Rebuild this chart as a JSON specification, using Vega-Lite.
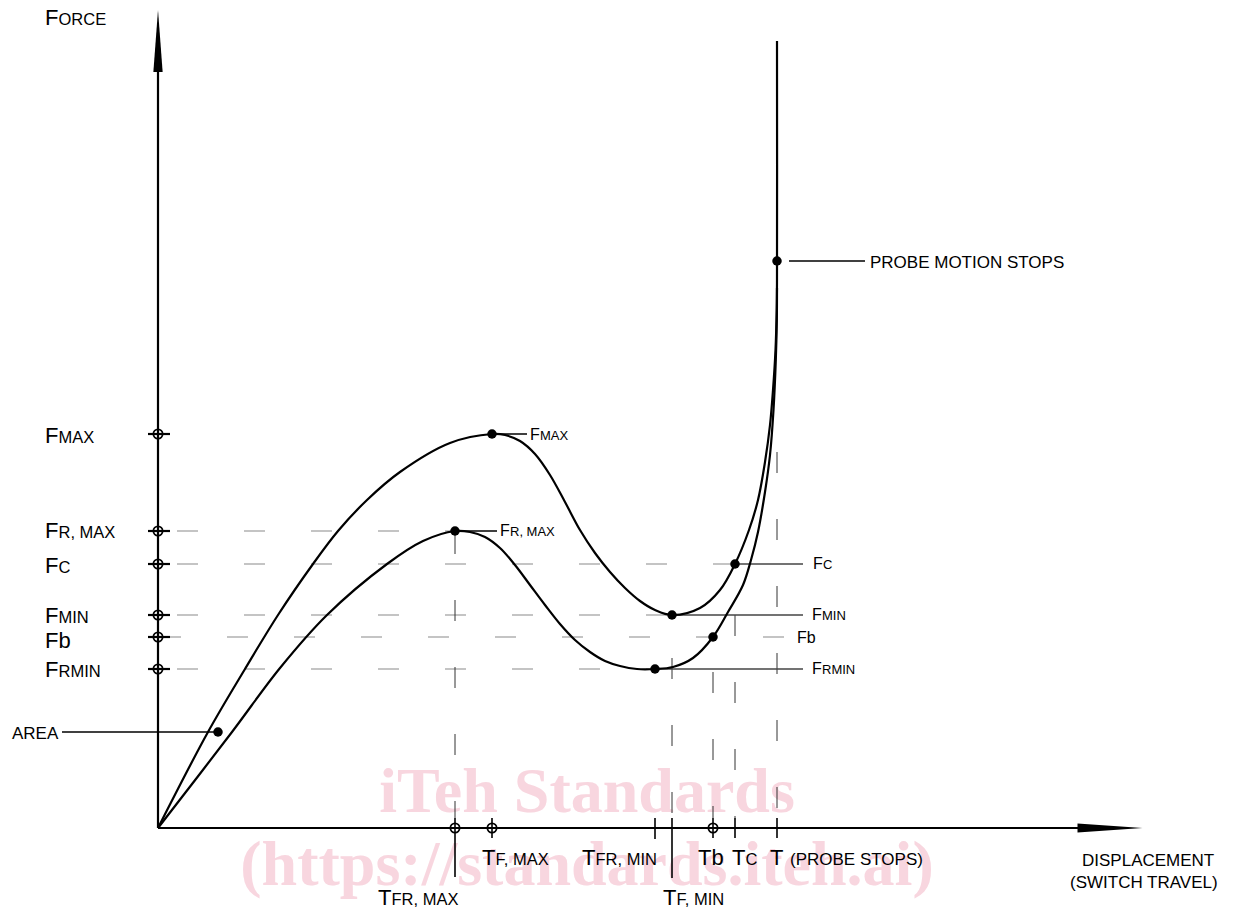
{
  "$schema": "https://vega.github.io/schema/vega-lite/v6.json",
  "width": 1236,
  "height": 910,
  "padding": 0,
  "autosize": "none",
  "background": "white",
  "config": {"view": {"stroke": null}},
  "datasets": {
    "watermark": [
      {"t": "iTeh Standards", "x": 429, "y": 16},
      {"t": "(https://standards.iteh.ai)", "x": 429, "y": -57}
    ],
    "segments": [
      {"x": 0, "y": 0, "x2": 0, "y2": 770, "k": "axis"},
      {"x": 0, "y": 0, "x2": 935, "y2": 0, "k": "axis"},
      {"x": 19, "y": 297, "x2": 297, "y2": 297, "k": "hdash"},
      {"x": 19, "y": 264, "x2": 577, "y2": 264, "k": "hdash"},
      {"x": 19, "y": 213, "x2": 514, "y2": 213, "k": "hdash"},
      {"x": 2, "y": 191, "x2": 632, "y2": 191, "k": "hdash"},
      {"x": 19, "y": 159, "x2": 497, "y2": 159, "k": "hdash"},
      {"x": 297, "y": 295, "x2": 297, "y2": 10, "k": "vdash"},
      {"x": 514, "y": 170, "x2": 514, "y2": 10, "k": "vdash"},
      {"x": 555, "y": 156, "x2": 555, "y2": 10, "k": "vdash"},
      {"x": 577, "y": 213, "x2": 577, "y2": 10, "k": "vdash"},
      {"x": 619, "y": 376, "x2": 619, "y2": 10, "k": "vdash"},
      {"x": 577, "y": 264, "x2": 645, "y2": 264, "k": "lead"},
      {"x": 514, "y": 213, "x2": 645, "y2": 213, "k": "lead"},
      {"x": 497, "y": 159, "x2": 645, "y2": 159, "k": "lead"},
      {"x": 334, "y": 394, "x2": 369, "y2": 394, "k": "blk"},
      {"x": 297, "y": 297, "x2": 339, "y2": 297, "k": "blk"},
      {"x": 631, "y": 567, "x2": 707, "y2": 567, "k": "blk"},
      {"x": -96, "y": 96, "x2": 60, "y2": 96, "k": "blk"},
      {"x": 297, "y": 10, "x2": 297, "y2": -49, "k": "blk"},
      {"x": 334, "y": 10, "x2": 334, "y2": -10, "k": "blk"},
      {"x": 497, "y": 10, "x2": 497, "y2": -11, "k": "blk"},
      {"x": 514, "y": 10, "x2": 514, "y2": -50, "k": "blk"},
      {"x": 555, "y": 10, "x2": 555, "y2": -10, "k": "blk"},
      {"x": 577, "y": 10, "x2": 577, "y2": -10, "k": "blk"},
      {"x": 619, "y": 10, "x2": 619, "y2": -10, "k": "blk"},
      {"x": -10, "y": 394, "x2": 12, "y2": 394, "k": "tick"},
      {"x": -10, "y": 297, "x2": 12, "y2": 297, "k": "tick"},
      {"x": -10, "y": 264, "x2": 12, "y2": 264, "k": "tick"},
      {"x": -10, "y": 213, "x2": 12, "y2": 213, "k": "tick"},
      {"x": -10, "y": 191, "x2": 12, "y2": 191, "k": "tick"},
      {"x": -10, "y": 159, "x2": 12, "y2": 159, "k": "tick"}
    ],
    "curves": [
      {"c": "upper", "i": 0, "x": 0, "y": 0},
      {"c": "upper", "i": 1, "x": 50, "y": 96},
      {"c": "upper", "i": 2, "x": 87, "y": 159},
      {"c": "upper", "i": 3, "x": 120, "y": 213},
      {"c": "upper", "i": 4, "x": 155, "y": 264},
      {"c": "upper", "i": 5, "x": 180, "y": 297},
      {"c": "upper", "i": 6, "x": 209, "y": 328},
      {"c": "upper", "i": 7, "x": 242, "y": 356},
      {"c": "upper", "i": 8, "x": 292, "y": 385},
      {"c": "upper", "i": 9, "x": 334, "y": 394},
      {"c": "upper", "i": 10, "x": 347, "y": 393},
      {"c": "upper", "i": 11, "x": 362, "y": 387},
      {"c": "upper", "i": 12, "x": 377, "y": 374},
      {"c": "upper", "i": 13, "x": 392, "y": 353},
      {"c": "upper", "i": 14, "x": 407, "y": 326},
      {"c": "upper", "i": 15, "x": 422, "y": 298},
      {"c": "upper", "i": 16, "x": 437, "y": 275},
      {"c": "upper", "i": 17, "x": 452, "y": 256},
      {"c": "upper", "i": 18, "x": 467, "y": 240},
      {"c": "upper", "i": 19, "x": 482, "y": 227},
      {"c": "upper", "i": 20, "x": 497, "y": 218},
      {"c": "upper", "i": 21, "x": 514, "y": 213},
      {"c": "upper", "i": 22, "x": 542, "y": 220},
      {"c": "upper", "i": 23, "x": 562, "y": 238},
      {"c": "upper", "i": 24, "x": 577, "y": 264},
      {"c": "upper", "i": 25, "x": 591, "y": 298},
      {"c": "upper", "i": 26, "x": 600, "y": 328},
      {"c": "upper", "i": 27, "x": 607, "y": 366},
      {"c": "upper", "i": 28, "x": 612, "y": 403},
      {"c": "upper", "i": 29, "x": 615, "y": 438},
      {"c": "upper", "i": 30, "x": 617.5, "y": 478},
      {"c": "upper", "i": 31, "x": 618.7, "y": 518},
      {"c": "upper", "i": 32, "x": 619, "y": 548},
      {"c": "upper", "i": 33, "x": 619, "y": 787},
      {"c": "lower", "i": 0, "x": 0, "y": 0},
      {"c": "lower", "i": 1, "x": 74, "y": 96},
      {"c": "lower", "i": 2, "x": 122, "y": 160},
      {"c": "lower", "i": 3, "x": 169, "y": 213},
      {"c": "lower", "i": 4, "x": 229, "y": 264},
      {"c": "lower", "i": 5, "x": 265, "y": 287},
      {"c": "lower", "i": 6, "x": 297, "y": 297},
      {"c": "lower", "i": 7, "x": 312, "y": 296},
      {"c": "lower", "i": 8, "x": 327, "y": 291},
      {"c": "lower", "i": 9, "x": 342, "y": 280},
      {"c": "lower", "i": 10, "x": 357, "y": 263},
      {"c": "lower", "i": 11, "x": 372, "y": 243},
      {"c": "lower", "i": 12, "x": 387, "y": 223},
      {"c": "lower", "i": 13, "x": 402, "y": 204},
      {"c": "lower", "i": 14, "x": 417, "y": 188},
      {"c": "lower", "i": 15, "x": 432, "y": 176},
      {"c": "lower", "i": 16, "x": 447, "y": 167},
      {"c": "lower", "i": 17, "x": 462, "y": 162},
      {"c": "lower", "i": 18, "x": 479, "y": 159},
      {"c": "lower", "i": 19, "x": 497, "y": 159},
      {"c": "lower", "i": 20, "x": 515, "y": 161},
      {"c": "lower", "i": 21, "x": 535, "y": 170},
      {"c": "lower", "i": 22, "x": 555, "y": 191},
      {"c": "lower", "i": 23, "x": 570, "y": 216},
      {"c": "lower", "i": 24, "x": 585, "y": 243},
      {"c": "lower", "i": 25, "x": 593, "y": 268},
      {"c": "lower", "i": 26, "x": 600, "y": 296},
      {"c": "lower", "i": 27, "x": 607, "y": 336},
      {"c": "lower", "i": 28, "x": 612, "y": 373},
      {"c": "lower", "i": 29, "x": 615.5, "y": 418},
      {"c": "lower", "i": 30, "x": 617.8, "y": 468},
      {"c": "lower", "i": 31, "x": 618.8, "y": 508},
      {"c": "lower", "i": 32, "x": 619, "y": 540}
    ],
    "arrows": [
      {"dir": "up", "x": 0, "y": 787},
      {"dir": "right", "x": 952, "y": 0}
    ],
    "dots": [
      {"name": "F max", "x": 334, "y": 394},
      {"name": "F r,max", "x": 297, "y": 297},
      {"name": "F c", "x": 577, "y": 264},
      {"name": "F min", "x": 514, "y": 213},
      {"name": "F rmin", "x": 497, "y": 159},
      {"name": "F b", "x": 555, "y": 191},
      {"name": "probe stops", "x": 619, "y": 567},
      {"name": "area", "x": 60, "y": 96}
    ],
    "rings": [
      {"x": 0, "y": 394}, {"x": 0, "y": 297}, {"x": 0, "y": 264},
      {"x": 0, "y": 213}, {"x": 0, "y": 191}, {"x": 0, "y": 159},
      {"x": 297, "y": 0}, {"x": 334, "y": 0}, {"x": 555, "y": 0}
    ],
    "caps": [
      {"g": "L", "big": "F", "small": "ORCE", "x": -113, "y": 803},
      {"g": "L", "big": "F", "small": "MAX", "x": -113, "y": 385},
      {"g": "L", "big": "F", "small": "R, MAX", "x": -113, "y": 290},
      {"g": "L", "big": "F", "small": "C", "x": -113, "y": 255},
      {"g": "L", "big": "F", "small": "MIN", "x": -113, "y": 205},
      {"g": "L", "big": "Fb", "small": "", "x": -113, "y": 180},
      {"g": "L", "big": "F", "small": "RMIN", "x": -113, "y": 151},
      {"g": "L", "big": "T", "small": "F, MAX", "x": 324, "y": -37},
      {"g": "L", "big": "T", "small": "FR, MIN", "x": 424, "y": -37},
      {"g": "L", "big": "Tb", "small": "", "x": 540, "y": -37},
      {"g": "L", "big": "T", "small": "C", "x": 574, "y": -37},
      {"g": "L", "big": "T", "small": "", "x": 612, "y": -37},
      {"g": "L", "big": "T", "small": "FR, MAX", "x": 220, "y": -77},
      {"g": "L", "big": "T", "small": "F, MIN", "x": 505, "y": -77},
      {"g": "R", "big": "F", "small": "MAX", "x": 372, "y": 388},
      {"g": "R", "big": "F", "small": "R, MAX", "x": 342, "y": 292},
      {"g": "R", "big": "F", "small": "C", "x": 655, "y": 259},
      {"g": "R", "big": "F", "small": "MIN", "x": 654, "y": 208},
      {"g": "R", "big": "Fb", "small": "", "x": 639, "y": 185},
      {"g": "R", "big": "F", "small": "RMIN", "x": 654, "y": 154}
    ],
    "plain": [
      {"t": "AREA", "x": -146, "y": 89},
      {"t": "PROBE MOTION STOPS", "x": 712, "y": 560},
      {"t": "(PROBE STOPS)", "x": 632, "y": -37},
      {"t": "DISPLACEMENT", "x": 924, "y": -38},
      {"t": "(SWITCH TRAVEL)", "x": 912, "y": -60}
    ]
  },
  "encoding": {
    "x": {"field": "x", "type": "quantitative", "scale": {"domain": [-158, 1078], "nice": false, "zero": false}, "axis": null},
    "y": {"field": "y", "type": "quantitative", "scale": {"domain": [-82, 828], "nice": false, "zero": false}, "axis": null}
  },
  "layer": [
    {
      "data": {"name": "watermark"},
      "mark": {"type": "text", "font": "Liberation Serif", "fontWeight": "bold", "fontSize": 64, "align": "center", "baseline": "alphabetic", "color": "#f8d6df"},
      "encoding": {"text": {"field": "t"}}
    },
    {
      "data": {"name": "segments"},
      "transform": [{"filter": "datum.k === 'hdash'"}],
      "mark": {"type": "rule", "stroke": "#8a8a8a", "strokeWidth": 1.2, "strokeDash": [21, 46]},
      "encoding": {"x2": {"field": "x2"}, "y2": {"field": "y2"}}
    },
    {
      "data": {"name": "segments"},
      "transform": [{"filter": "datum.k === 'vdash'"}],
      "mark": {"type": "rule", "stroke": "#333333", "strokeWidth": 1, "strokeDash": [21, 46]},
      "encoding": {"x2": {"field": "x2"}, "y2": {"field": "y2"}}
    },
    {
      "data": {"name": "segments"},
      "transform": [{"filter": "datum.k === 'lead'"}],
      "mark": {"type": "rule", "stroke": "#444444", "strokeWidth": 1.5},
      "encoding": {"x2": {"field": "x2"}, "y2": {"field": "y2"}}
    },
    {
      "data": {"name": "segments"},
      "transform": [{"filter": "datum.k === 'blk'"}],
      "mark": {"type": "rule", "stroke": "black", "strokeWidth": 1.6},
      "encoding": {"x2": {"field": "x2"}, "y2": {"field": "y2"}}
    },
    {
      "data": {"name": "segments"},
      "transform": [{"filter": "datum.k === 'tick'"}],
      "mark": {"type": "rule", "stroke": "black", "strokeWidth": 2.2},
      "encoding": {"x2": {"field": "x2"}, "y2": {"field": "y2"}}
    },
    {
      "data": {"name": "segments"},
      "transform": [{"filter": "datum.k === 'axis'"}],
      "mark": {"type": "rule", "stroke": "black", "strokeWidth": 2.2},
      "encoding": {"x2": {"field": "x2"}, "y2": {"field": "y2"}}
    },
    {
      "data": {"name": "curves"},
      "mark": {"type": "line", "interpolate": "catmull-rom", "stroke": "black", "strokeWidth": 2.2},
      "encoding": {"detail": {"field": "c"}, "order": {"field": "i", "type": "quantitative"}}
    },
    {
      "data": {"name": "arrows"},
      "transform": [{"filter": "datum.dir === 'up'"}],
      "mark": {"type": "point", "shape": "M0,-1L0.15,1L-0.15,1Z", "size": 3844, "filled": true, "fill": "black", "opacity": 1, "strokeWidth": 0}
    },
    {
      "data": {"name": "arrows"},
      "transform": [{"filter": "datum.dir === 'right'"}],
      "mark": {"type": "point", "shape": "M1,0L-1,0.14L-1,-0.14Z", "size": 4225, "filled": true, "fill": "black", "opacity": 1, "strokeWidth": 0}
    },
    {
      "data": {"name": "rings"},
      "mark": {"type": "point", "shape": "circle", "size": 85, "filled": false, "stroke": "black", "strokeWidth": 1.8, "opacity": 1}
    },
    {
      "data": {"name": "dots"},
      "mark": {"type": "point", "shape": "circle", "size": 90, "filled": true, "fill": "black", "opacity": 1}
    },
    {
      "data": {"name": "caps"},
      "transform": [{"filter": "datum.g === 'L'"}],
      "mark": {"type": "text", "font": "Liberation Sans", "fontSize": 22, "align": "left", "baseline": "alphabetic", "color": "black"},
      "encoding": {"text": {"field": "big"}}
    },
    {
      "data": {"name": "caps"},
      "transform": [{"filter": "datum.g === 'L'"}],
      "mark": {"type": "text", "font": "Liberation Sans", "fontSize": 16.5, "align": "left", "baseline": "alphabetic", "dx": 13.5, "color": "black"},
      "encoding": {"text": {"field": "small"}}
    },
    {
      "data": {"name": "caps"},
      "transform": [{"filter": "datum.g === 'R'"}],
      "mark": {"type": "text", "font": "Liberation Sans", "fontSize": 16, "align": "left", "baseline": "alphabetic", "color": "black"},
      "encoding": {"text": {"field": "big"}}
    },
    {
      "data": {"name": "caps"},
      "transform": [{"filter": "datum.g === 'R'"}],
      "mark": {"type": "text", "font": "Liberation Sans", "fontSize": 13, "align": "left", "baseline": "alphabetic", "dx": 10, "color": "black"},
      "encoding": {"text": {"field": "small"}}
    },
    {
      "data": {"name": "plain"},
      "mark": {"type": "text", "font": "Liberation Sans", "fontSize": 17, "align": "left", "baseline": "alphabetic", "color": "black"},
      "encoding": {"text": {"field": "t"}}
    }
  ]
}
